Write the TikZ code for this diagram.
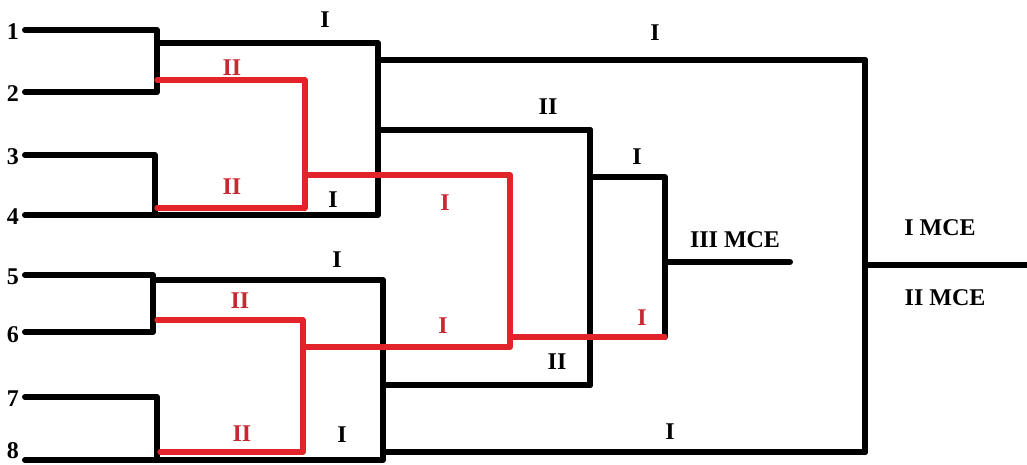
\documentclass[tikz,border=0pt]{standalone}
\usepackage{fontspec}
\setmainfont{Liberation Serif}
\usepackage{xcolor}
\usepackage{tikz}
\usetikzlibrary{calc, positioning}
\definecolor{bracketred}{RGB}{226,36,42}
\definecolor{labelred}{RGB}{200,40,50}
\tikzset{
    blackline/.style = {draw=black, line width=4.5pt, line cap=round, line join=round},
    redline/.style = {draw=bracketred, line width=4pt, line cap=round, line join=round},
    numnode/.style = {draw=none, fill=none, inner sep=0em, font=\fontsize{18}{18}\selectfont\bfseries},
    textnode/.style = {draw=none, fill=none, inner sep=0em, font=\fontsize{18}{18}\selectfont\bfseries},
    redtextnode/.style = {textnode, text=labelred}
}

\begin{document}
\begin{tikzpicture}[x=0.75pt, y=-0.75pt]
    \useasboundingbox (0,0) rectangle (1027,464);

    % entrants
    \foreach \n/\y/\ty in {1/30/32, 2/92/94, 3/155/157, 4/215/217, 5/275/277, 6/332/335, 7/397/399, 8/460/451} {
        \node [name=num\n, numnode] at (13,\ty) {\n};
        \coordinate (in\n) at (25,\y);
    }

    % junction points
    \coordinate (a12) at (157,30);  \coordinate (b12) at (157,92);
    \coordinate (a34) at (155,155); \coordinate (b34) at (155,215);
    \coordinate (a56) at (153,275); \coordinate (b56) at (153,332);
    \coordinate (a78) at (157,397); \coordinate (b78) at (157,460);
    \coordinate (w12) at (157,43);  \coordinate (w56) at (153,280);
    \coordinate (q1t) at (378,43);  \coordinate (q1b) at (378,215);
    \coordinate (q2t) at (383,280); \coordinate (q2b) at (383,460);
    \coordinate (s1t) at (590,130); \coordinate (s1b) at (590,385);
    \coordinate (s2t) at (665,177); \coordinate (s2b) at (665,337);
    \coordinate (f1t) at (865,60);  \coordinate (f1b) at (865,452);
    \coordinate (mce3) at (790,262);
    \coordinate (mce1) at (1027,265);

    % winners bracket (black)
    \draw [blackline] (in1) -- (a12) -- (b12) -- (in2);
    \draw [blackline] (in3) -- (a34) -- (b34);
    \draw [blackline] (in4) -- (q1b) -- (q1t) -- (w12);
    \draw [blackline] (in5) -- (a56) -- (b56) -- (in6);
    \draw [blackline] (in7) -- (a78) -- (b78);
    \draw [blackline] (in8) -- (q2b) -- (q2t) -- (w56);
    \draw [blackline] (q1t |- 0,60) -- (f1t);
    \draw [blackline] (q1t |- 0,130) -- (s1t);
    \draw [blackline] (q2t |- 0,385) -- (s1b);
    \draw [blackline] (q2t |- 0,452) -- (f1b);
    \draw [blackline] (s1t) -- (s1b);
    \draw [blackline] (s1t |- s2t) -- (s2t) -- (s2b);
    \draw [blackline] (s2t |- mce3) -- (mce3);
    \draw [blackline] (f1t) -- (f1b);
    \draw [blackline] (f1t |- mce1) -- (mce1);

    % losers bracket (red)
    \draw [redline] (157,80) -- (305,80) -- (305,208) -- (157,208);
    \draw [redline] (157,320) -- (303,320) -- (303,452) -- (160,452);
    \draw [redline] (305,175) -- (510,175) -- (510,347) -- (303,347);
    \draw [redline] (510,337) -- (s2b);

    % labels
    \node [name=l1, textnode] at (325,20) {I};
    \node [name=l2, textnode] at (333,200) {I};
    \node [name=l3, textnode] at (337,260) {I};
    \node [name=l4, textnode] at (342,435) {I};
    \node [name=l5, textnode] at (655,33) {I};
    \node [name=l6, textnode] at (548,107) {II};
    \node [name=l7, textnode] at (637,157) {I};
    \node [name=l8, textnode] at (557,362) {II};
    \node [name=l9, textnode] at (670,432) {I};
    \node [name=r1, redtextnode] at (232,68) {II};
    \node [name=r2, redtextnode] at (232,187) {II};
    \node [name=r3, redtextnode] at (240,301) {II};
    \node [name=r4, redtextnode] at (242,434) {II};
    \node [name=r5, redtextnode] at (445,203) {I};
    \node [name=r6, redtextnode] at (443,326) {I};
    \node [name=r7, redtextnode] at (642,318) {I};
    \node [name=m3, textnode] at (735,240) {III MCE};
    \node [name=m1, textnode] at (940,228) {I MCE};
    \node [name=m2, textnode] at (945,298) {II MCE};
\end{tikzpicture}
\end{document}
